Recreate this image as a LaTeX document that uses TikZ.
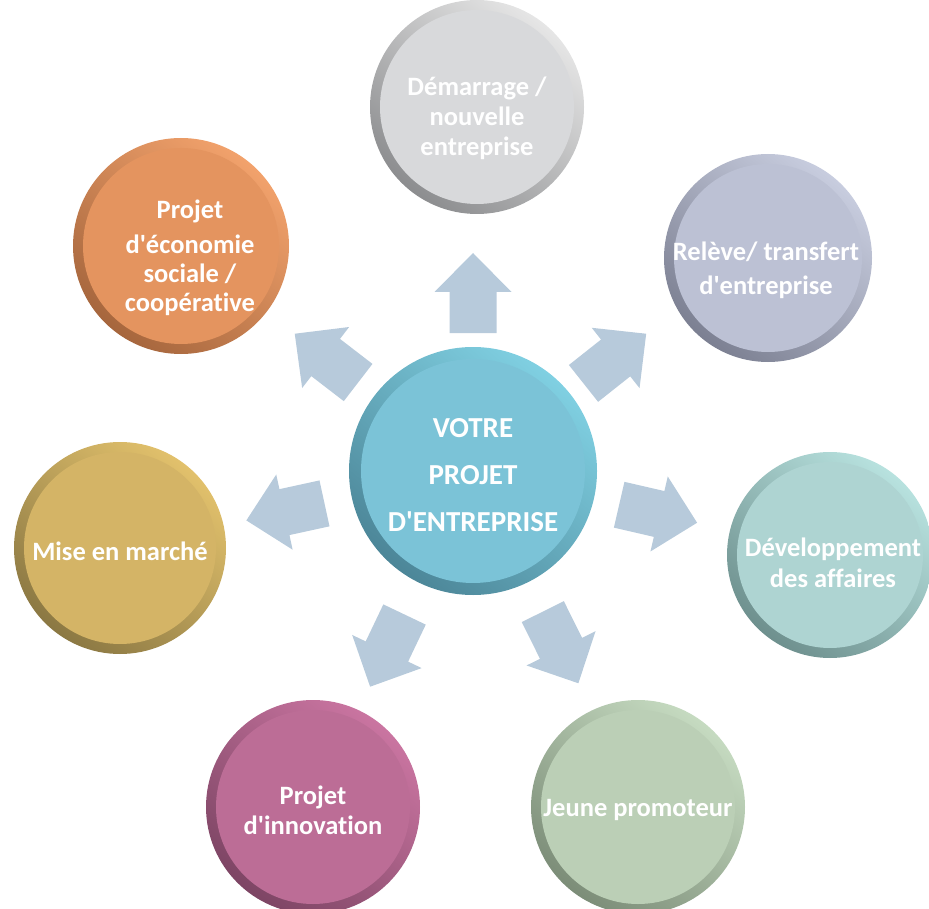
\documentclass[tikz,border=0pt]{standalone}
\usepackage{fontspec}
\newfontfamily\carl{Carlito}[Ligatures=NoCommon]
\definecolor{arrowblue}{HTML}{B7CADB}
\definecolor{cenD}{HTML}{4C8698}\definecolor{cenL}{HTML}{80D0E2}\definecolor{cenI}{HTML}{7BC3D7}
\definecolor{topD}{HTML}{8C8D8F}\definecolor{topL}{HTML}{E6E6E6}\definecolor{topI}{HTML}{D8D9DB}
\definecolor{trD}{HTML}{7C8092}\definecolor{trL}{HTML}{C8CDDF}\definecolor{trI}{HTML}{BCC1D4}
\definecolor{rD}{HTML}{6E908E}\definecolor{rL}{HTML}{B8E2DF}\definecolor{rI}{HTML}{AED4D2}
\definecolor{brD}{HTML}{7C8D78}\definecolor{brL}{HTML}{C6DBC1}\definecolor{brI}{HTML}{BBCFB6}
\definecolor{blD}{HTML}{7D4564}\definecolor{blL}{HTML}{CA75A1}\definecolor{blI}{HTML}{BC6D96}
\definecolor{lD}{HTML}{8B7843}\definecolor{lL}{HTML}{E2C16C}\definecolor{lI}{HTML}{D4B466}
\definecolor{tlD}{HTML}{A6663D}\definecolor{tlL}{HTML}{F2A26C}\definecolor{tlI}{HTML}{E4945F}
\tikzset{
  lbl/.style={text=white, align=center, inner sep=0pt, font=\carl\bfseries\fontsize{26.5}{#1}\selectfont},
  lbl/.default=31,
  biglbl/.style={text=white, align=center, inner sep=0pt, font=\carl\bfseries\fontsize{29}{47}\selectfont},
  arrowfill/.style={fill=arrowblue},
}
% name, x, y, radius, ring dark, ring light, inner fill, ring width
\newcommand\mybubble[8]{%
  \coordinate (#1) at (#2,#3);
  \shade[top color=#6, bottom color=#5, shading angle=-40] (#1) circle[radius=#4];
  \fill[#7] (#1) circle[radius=#4-#8];
}
% angle, start distance from centre
\newcommand\blkarrow[2]{%
  \fill[arrowfill, shift={(C)}, rotate=#1]
    (#2,-23.5) -- (#2+41,-23.5) -- (#2+41,-38.5) -- (#2+80,0)
    -- (#2+41,38.5) -- (#2+41,23.5) -- (#2,23.5) -- cycle;
}
\begin{document}
\begin{tikzpicture}[x=1pt,y=-1pt]
\useasboundingbox (0,0) rectangle (929,909);
\coordinate (C) at (473,471);
% arrows
\blkarrow{90}{138}
\blkarrow{38.4}{141}
\blkarrow{-13}{150}
\blkarrow{-63.6}{157}
\blkarrow{-115.5}{159}
\blkarrow{-167.7}{152}
\blkarrow{142.4}{145}
% circles
\mybubble{cen}{473}{471}{124}{cenD}{cenL}{cenI}{12}
\mybubble{top}{477}{107}{107}{topD}{topL}{topI}{10}
\mybubble{tr}{768}{258}{104}{trD}{trL}{trI}{10}
\mybubble{rt}{830}{555}{103}{rD}{rL}{rI}{10}
\mybubble{br}{638}{807}{107}{brD}{brL}{brI}{10}
\mybubble{bl}{313}{807}{107}{blD}{blL}{blI}{10}
\mybubble{lt}{120}{548}{106}{lD}{lL}{lI}{10}
\mybubble{tl}{181}{246}{108}{tlD}{tlL}{tlI}{10}
% labels
\node[biglbl] (cenT) at (473,475) {VOTRE\\PROJET\\D'ENTREPRISE};
\node[lbl=30] (topT) at (477,118) {Démarrage /\\nouvelle\\entreprise};
\node[lbl=34] (trT) at (766,270) {Relève/ transfert\\d'entreprise};
\node[lbl=31] (rtT) at (833,563) {Développement\\des affaires};
\node[lbl] (brT) at (638,810) {Jeune promoteur};
\node[lbl=30] (blT) at (313,810) {Projet\\d'innovation};
\node[lbl] (ltT) at (120,551) {Mise en marché};
\node[lbl=29] (tlT) at (190,258) {Projet\\[6pt]d'économie\\sociale /\\coopérative};
\end{tikzpicture}
\end{document}
